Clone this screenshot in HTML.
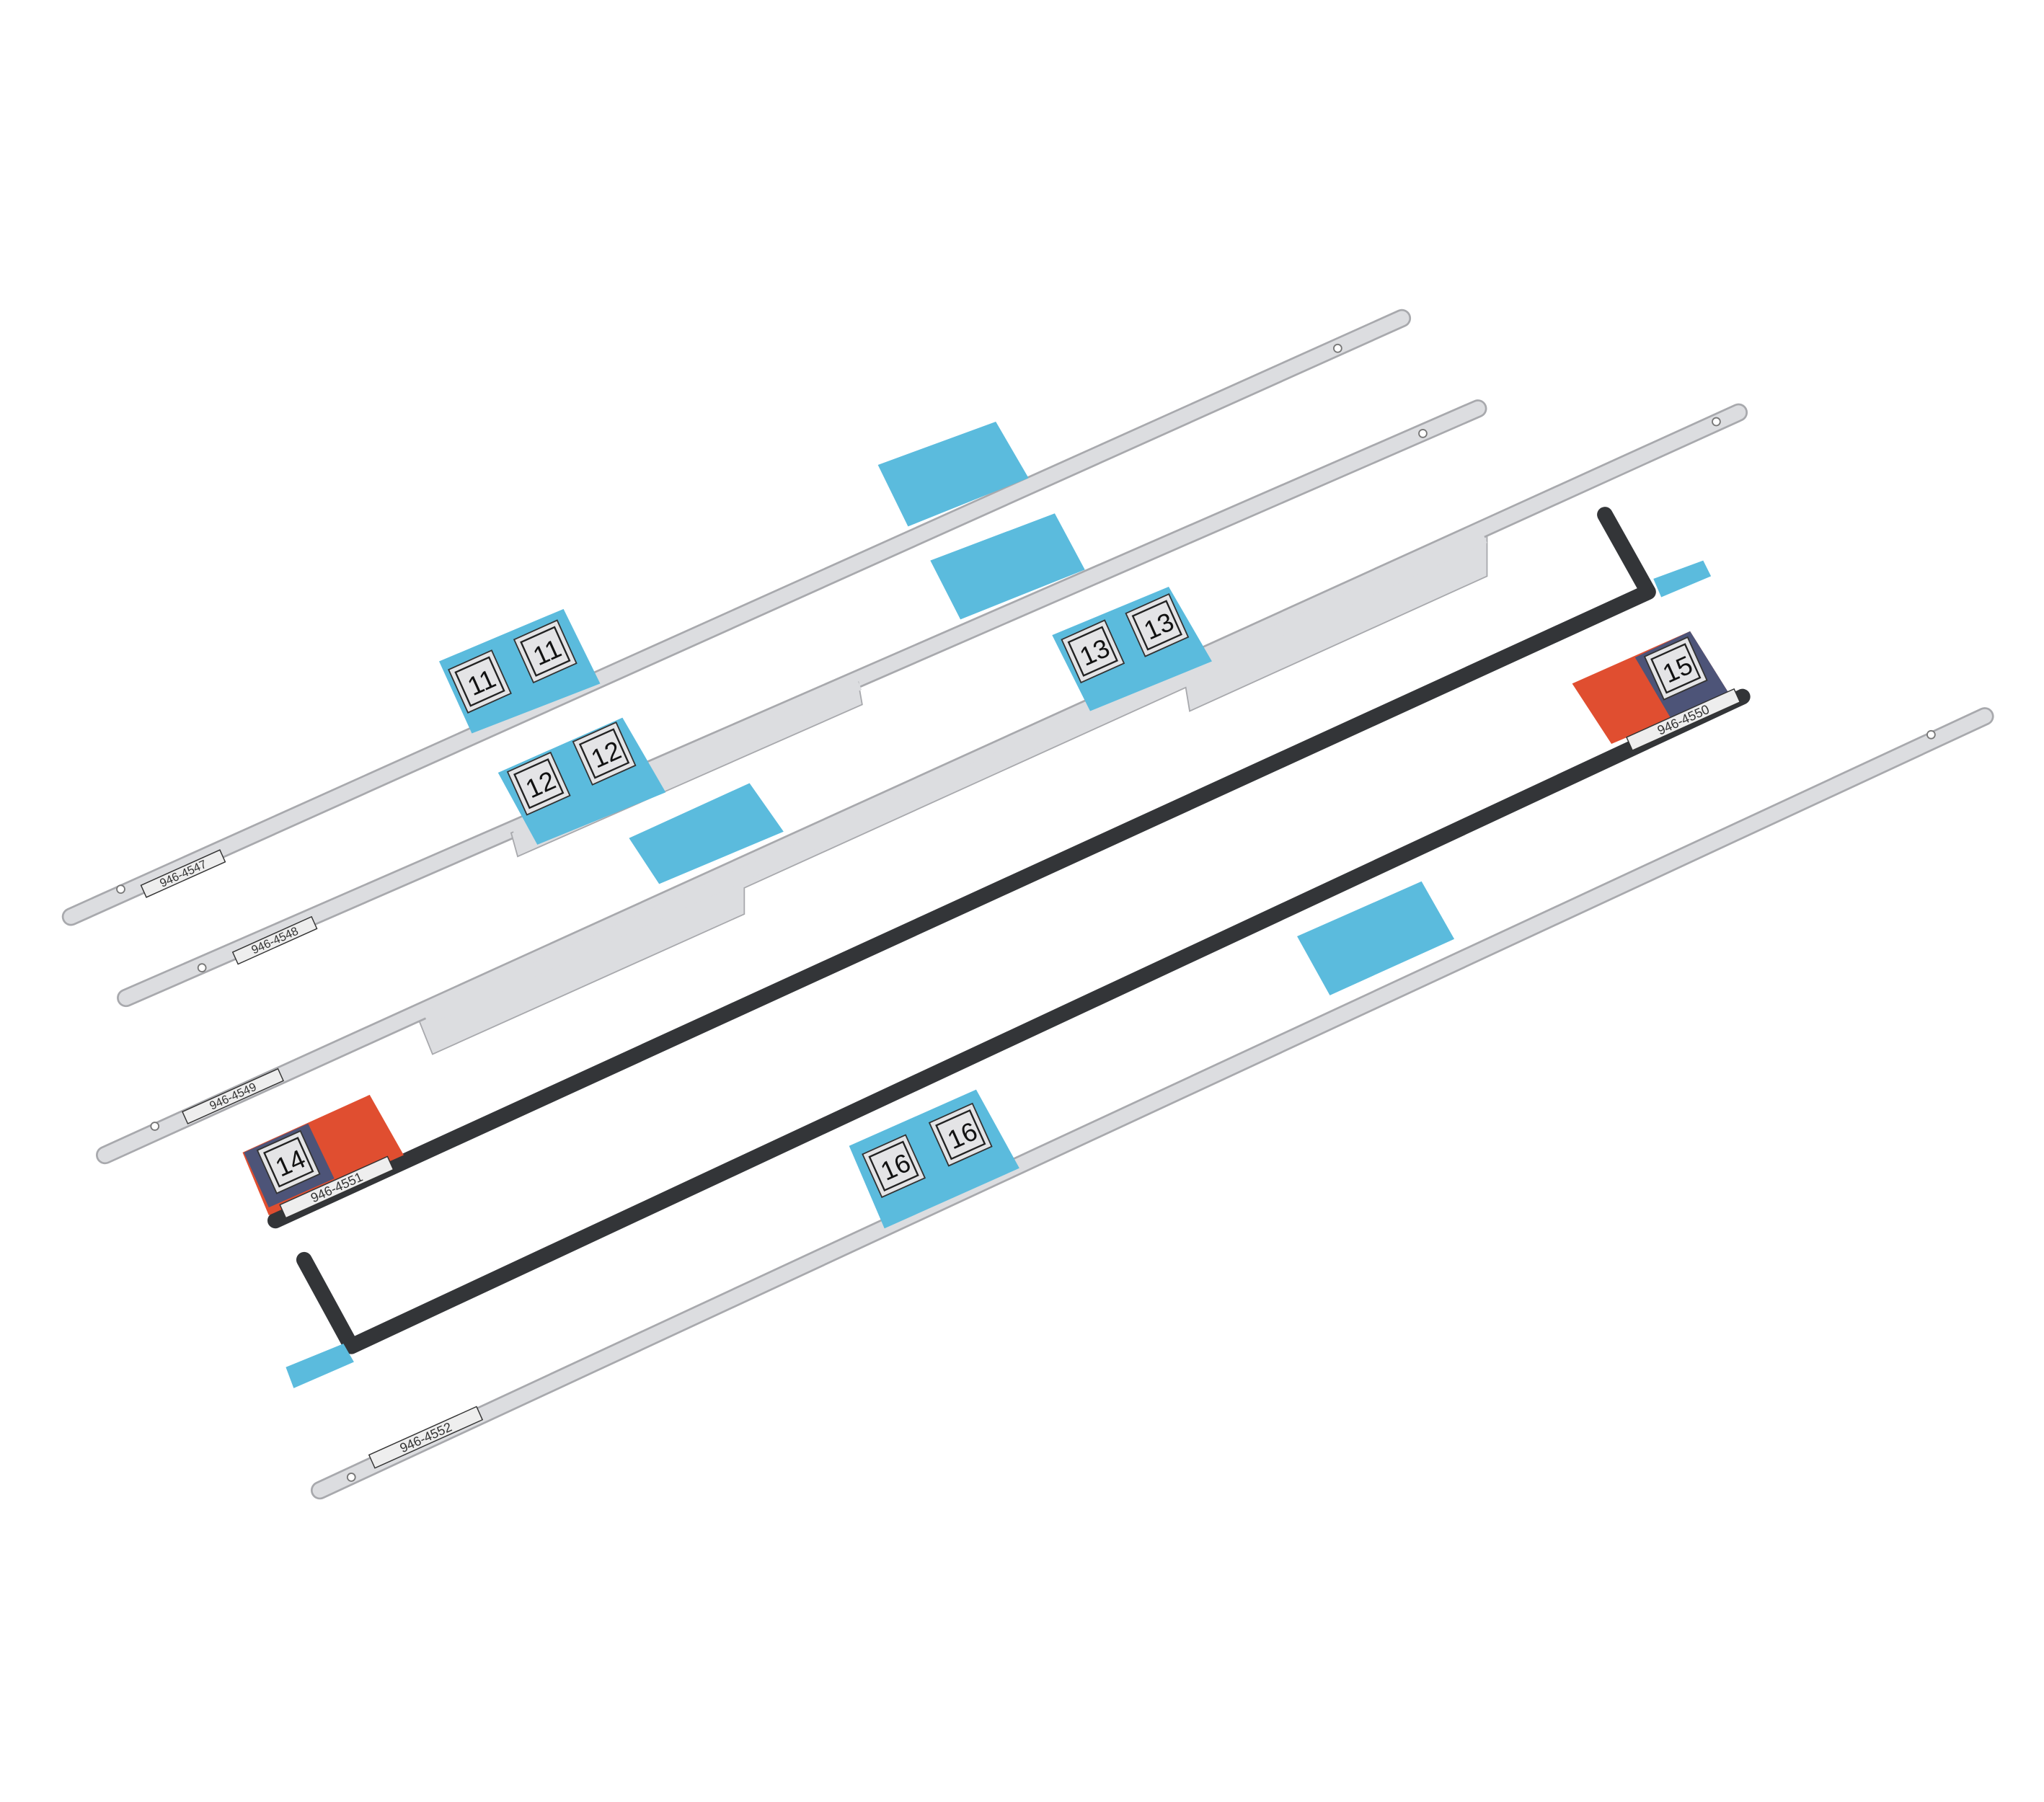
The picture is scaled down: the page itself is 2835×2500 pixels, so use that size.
<!DOCTYPE html>
<html><head><style>html,body{margin:0;padding:0;background:#fff}svg{display:block}</style></head><body>
<svg width="2835" height="2500" viewBox="0 0 1560 1376" xmlns="http://www.w3.org/2000/svg" font-family="Liberation Sans, sans-serif">
<defs>
<g id="lbl"><rect x="-17" y="-18" width="36" height="36" fill="#e4e4e6" stroke="#333" stroke-width="1"/><rect x="-13" y="-14" width="28" height="28" fill="none" stroke="#222" stroke-width="1.3"/></g>
</defs>
<!-- strip 1 -->
<polyline points="54,700 1070,243" stroke="#a8a9ad" stroke-width="14" stroke-linecap="round" fill="none"/>
<polyline points="54,700 1070,243" stroke="#dcdde0" stroke-width="11" stroke-linecap="round" fill="none"/>
<circle cx="92" cy="679" r="3" fill="#fff" stroke="#777"/><circle cx="1021" cy="266" r="3" fill="#fff" stroke="#777"/>
<g transform="translate(140,668) rotate(-24.2)"><rect x="-33" y="-6" width="66" height="10" fill="#eee" stroke="#333" stroke-width=".8"/><text x="0" y="2" font-size="9" text-anchor="middle" fill="#333">946-4547</text></g>
<polygon points="670,355 760,322 785,365 693,402" fill="#5bbbdd"/>
<polygon points="335,505 430,465 458,522 360,560" fill="#5bbbdd"/>
<!-- strip 2 -->
<polyline points="96,762 1128,312" stroke="#a8a9ad" stroke-width="14" stroke-linecap="round" fill="none"/>
<polyline points="96,762 1128,312" stroke="#dcdde0" stroke-width="11" stroke-linecap="round" fill="none"/>
<polygon points="390,636 655,521 658,538 395,654" fill="#dcdde0" stroke="#a8a9ad"/>
<polyline points="393,638 656,523" stroke="#dcdde0" stroke-width="8" fill="none"/>
<circle cx="154" cy="739" r="3" fill="#fff" stroke="#777"/><circle cx="1086" cy="331" r="3" fill="#fff" stroke="#777"/>
<g transform="translate(210,719) rotate(-24.2)"><rect x="-33" y="-6" width="66" height="10" fill="#eee" stroke="#333" stroke-width=".8"/><text x="0" y="2" font-size="9" text-anchor="middle" fill="#333">946-4548</text></g>
<polygon points="710,428 805,392 828,435 733,473" fill="#5bbbdd"/>
<polygon points="380,590 475,548 508,605 410,645" fill="#5bbbdd"/>
<!-- strip 3 -->
<polygon points="1135,404 1135,440 908,543 905,525 568,678 568,698 330,805 320,780" fill="#dcdde0" stroke="#a8a9ad"/>
<polyline points="80,882 1327,315" stroke="#a8a9ad" stroke-width="14" stroke-linecap="round" fill="none"/>
<polyline points="80,882 1327,315" stroke="#dcdde0" stroke-width="11" stroke-linecap="round" fill="none"/>
<polyline points="325,778 1133,410" stroke="#dcdde0" stroke-width="10" fill="none"/>
<circle cx="118" cy="860" r="3" fill="#fff" stroke="#777"/><circle cx="1310" cy="322" r="3" fill="#fff" stroke="#777"/>
<g transform="translate(178,838) rotate(-24.2)"><rect x="-40" y="-6" width="80" height="10" fill="#eee" stroke="#333" stroke-width=".8"/><text x="0" y="2" font-size="9" text-anchor="middle" fill="#333">946-4549</text></g>
<polygon points="803,485 892,448 925,505 832,543" fill="#5bbbdd"/>
<polygon points="480,640 572,598 598,635 503,675" fill="#5bbbdd"/>
<!-- black strip 14 -->
<polyline points="210,932 1258,452 1225,393" stroke="#333538" stroke-width="12" stroke-linejoin="round" stroke-linecap="round" fill="none"/>
<polygon points="1262,442 1300,428 1306,440 1268,456" fill="#5bbbdd"/>
<polygon points="185,880 282,836 308,882 205,928" fill="#e04e30"/>
<polygon points="186,880 235,858 255,900 205,922" fill="#4d5478"/>
<g transform="translate(221,887) rotate(-24.2)"><use href="#lbl" x="-2"/><text x="0" y="8" font-size="20" text-anchor="middle" fill="#111">14</text></g>
<g transform="translate(257,907) rotate(-24.2)"><rect x="-45" y="-6" width="90" height="11" fill="#eee" stroke="#333" stroke-width=".8"/><text x="0" y="3" font-size="10" text-anchor="middle" fill="#333">946-4551</text></g>
<!-- black strip 15 -->
<polyline points="1330,532 268,1028 232,962" stroke="#333538" stroke-width="12" stroke-linejoin="round" stroke-linecap="round" fill="none"/>
<polygon points="218,1044 262,1026 270,1040 224,1060" fill="#5bbbdd"/>
<polygon points="1200,522 1290,482 1320,530 1230,568" fill="#e04e30"/>
<polygon points="1248,502 1290,482 1320,530 1275,548" fill="#4d5478"/>
<g transform="translate(1280,510) rotate(-24.2)"><use href="#lbl" x="-2"/><text x="0" y="8" font-size="20" text-anchor="middle" fill="#111">15</text></g>
<g transform="translate(1285,550) rotate(-24.2)"><rect x="-45" y="-6" width="90" height="11" fill="#eee" stroke="#333" stroke-width=".8"/><text x="0" y="3" font-size="10" text-anchor="middle" fill="#333">946-4550</text></g>
<!-- strip 16 -->
<polyline points="244,1138 1515,547" stroke="#a8a9ad" stroke-width="14" stroke-linecap="round" fill="none"/>
<polyline points="244,1138 1515,547" stroke="#dcdde0" stroke-width="11" stroke-linecap="round" fill="none"/>
<circle cx="268" cy="1128" r="3" fill="#fff" stroke="#777"/><circle cx="1474" cy="561" r="3" fill="#fff" stroke="#777"/>
<g transform="translate(325,1098) rotate(-24.2)"><rect x="-45" y="-6" width="90" height="11" fill="#eee" stroke="#333" stroke-width=".8"/><text x="0" y="3" font-size="10" text-anchor="middle" fill="#333">946-4552</text></g>
<polygon points="990,715 1085,673 1110,717 1015,760" fill="#5bbbdd"/>
<polygon points="648,875 745,832 778,892 675,938" fill="#5bbbdd"/>
<!-- number labels -->
<g transform="translate(367,520) rotate(-24.2)"><use href="#lbl" x="-2"/><text x="0" y="8" font-size="20" text-anchor="middle" fill="#111">11</text></g>
<g transform="translate(417,497) rotate(-24.2)"><use href="#lbl" x="-2"/><text x="0" y="8" font-size="20" text-anchor="middle" fill="#111">11</text></g>
<g transform="translate(412,598) rotate(-24.2)"><use href="#lbl" x="-2"/><text x="0" y="8" font-size="20" text-anchor="middle" fill="#111">12</text></g>
<g transform="translate(462,575) rotate(-24.2)"><use href="#lbl" x="-2"/><text x="0" y="8" font-size="20" text-anchor="middle" fill="#111">12</text></g>
<g transform="translate(835,497) rotate(-24.2)"><use href="#lbl" x="-2"/><text x="0" y="8" font-size="20" text-anchor="middle" fill="#111">13</text></g>
<g transform="translate(884,477) rotate(-24.2)"><use href="#lbl" x="-2"/><text x="0" y="8" font-size="20" text-anchor="middle" fill="#111">13</text></g>
<g transform="translate(683,890) rotate(-24.2)"><use href="#lbl" x="-2"/><text x="0" y="8" font-size="20" text-anchor="middle" fill="#111">16</text></g>
<g transform="translate(734,866) rotate(-24.2)"><use href="#lbl" x="-2"/><text x="0" y="8" font-size="20" text-anchor="middle" fill="#111">16</text></g>
</svg>
</body></html>
